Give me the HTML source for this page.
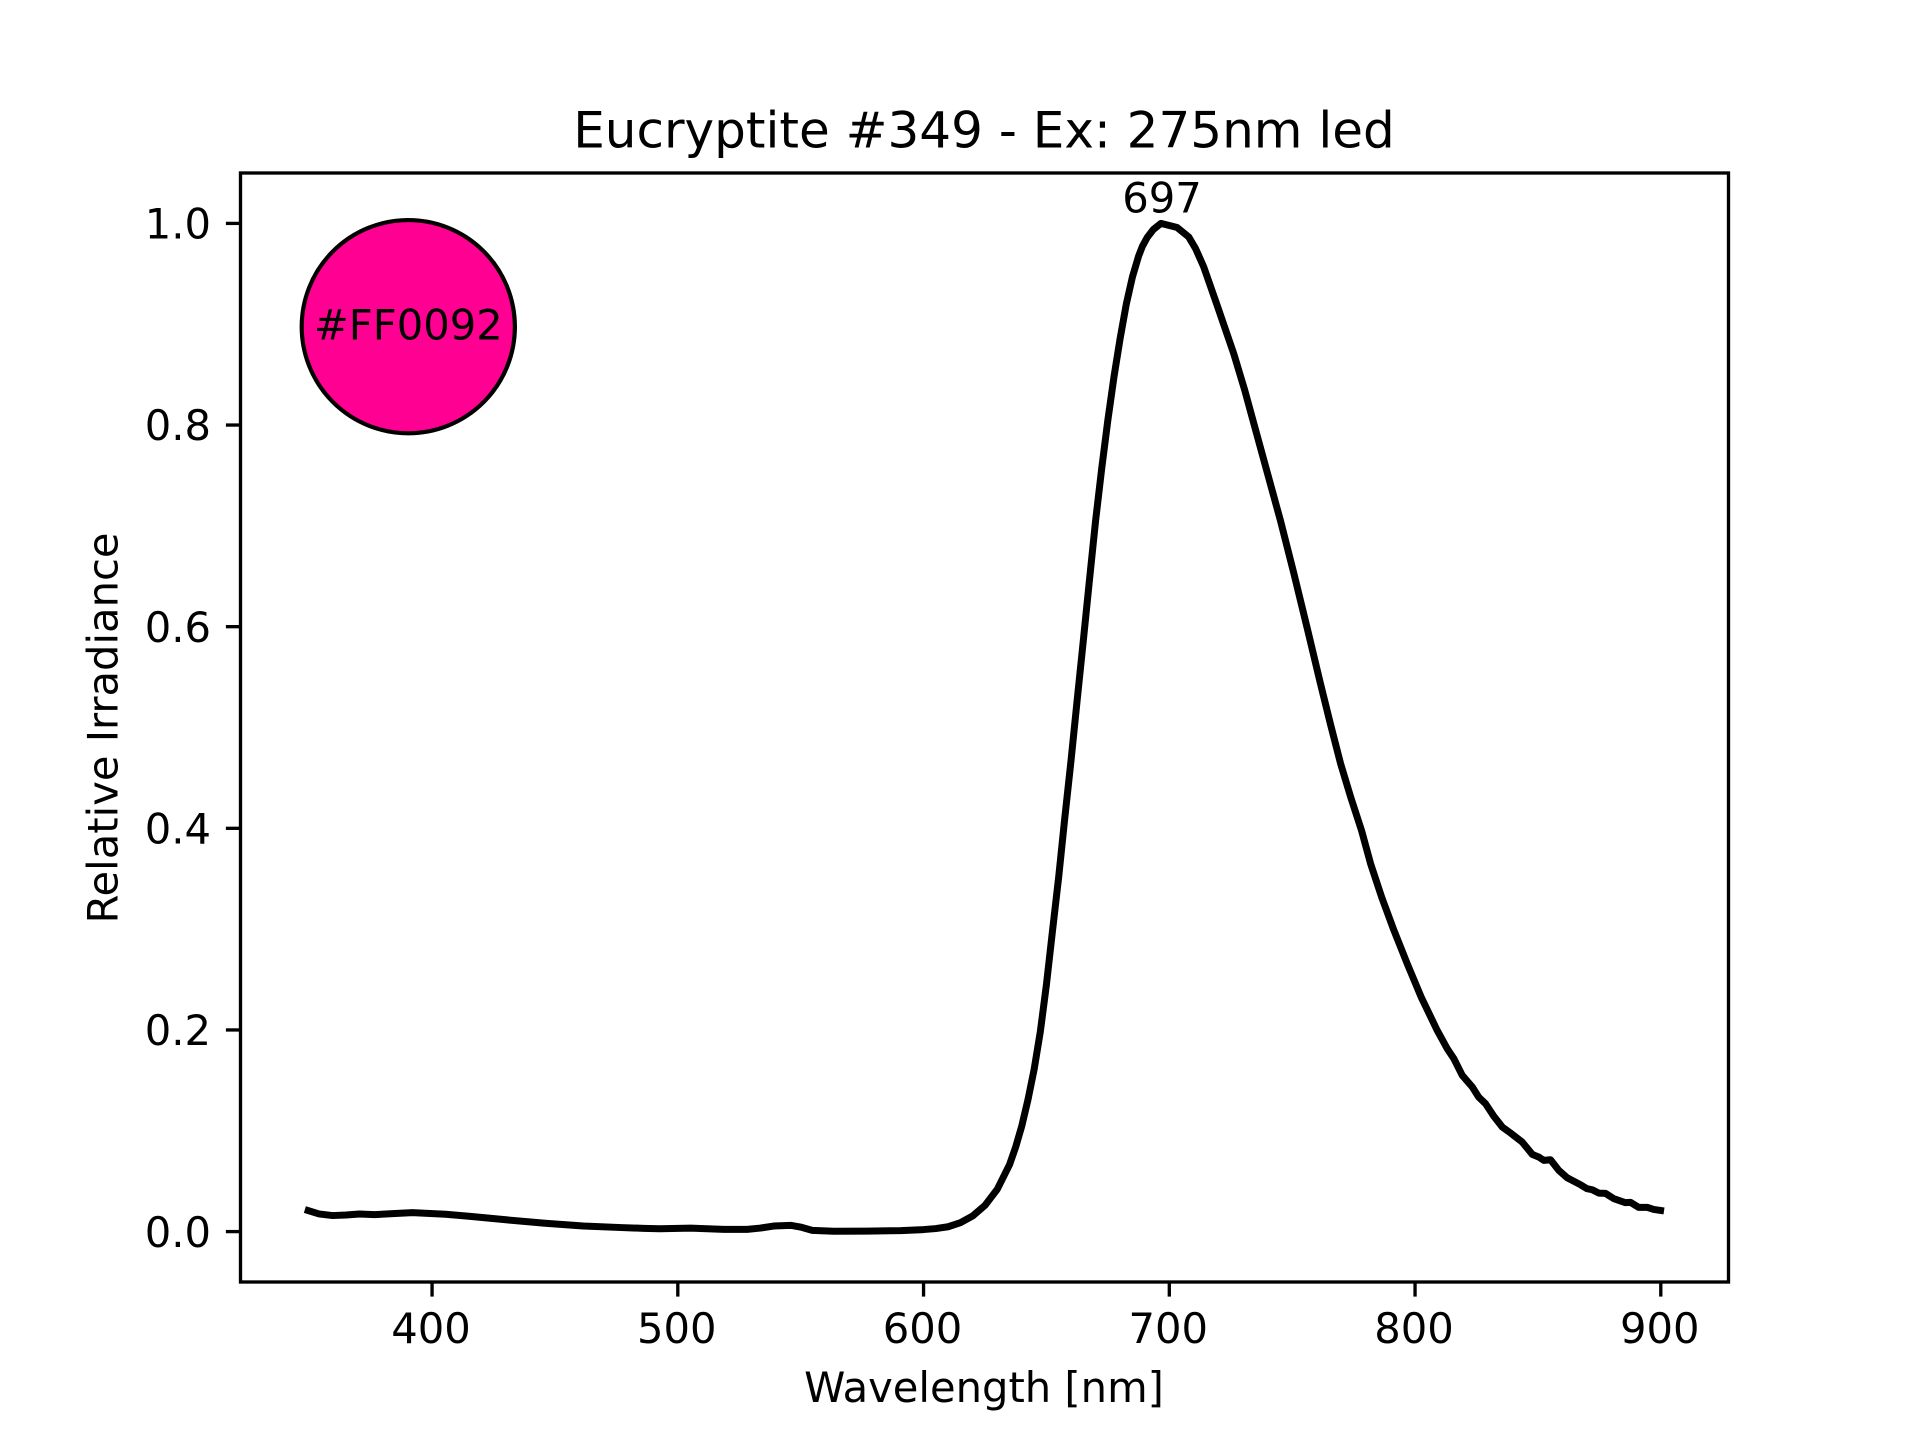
<!DOCTYPE html>
<html lang="en">
<head>
<meta charset="utf-8">
<title>Eucryptite #349 - Ex: 275nm led</title>
<style>
  html, body { margin: 0; padding: 0; background: #ffffff; }
  #chart { display: block; width: 1920px; height: 1440px; background: #ffffff; }
  text { font-family: "DejaVu Sans", "Liberation Sans", sans-serif; fill: #000000; }
</style>
</head>
<body>
<svg id="chart" xmlns="http://www.w3.org/2000/svg" width="1920" height="1440" viewBox="0 0 1920 1440">
  <rect x="0" y="0" width="1920" height="1440" fill="#ffffff"/>
  <text x="984" y="147.5" font-size="50" text-anchor="middle">Eucryptite #349 - Ex: 275nm led</text>
  <text x="984" y="1402" font-size="41.67" text-anchor="middle">Wavelength [nm]</text>
  <text x="117.5" y="728" font-size="41.67" text-anchor="middle" transform="rotate(-90 117.5 728)">Relative Irradiance</text>
  <g id="marks"></g>
  <g id="axes"></g>
</svg>
<script>
const wavelengths = [349.6,354,359.5,365,370.4,376.6,384,392,405.5,415,430.6,446,461.5,477,486.2,492.7,505.2,518.7,528.2,533.6,539,545.9,549.9,554.7,563.5,577,590.7,600,605,610,615,620,625,630,635,637.5,640,642.5,645,647.5,650,652.5,655,657.5,660,662.5,665,667.5,670,672.5,675,677.5,680,682.5,685,687.5,689,691,693.5,696.6,703.2,707.9,710.7,714,719.5,726.2,730.7,734.4,739.6,745.2,750.7,756.1,761.5,765.6,769.7,773.8,778.2,781.9,786.4,791.4,796.8,802.5,809,813.1,815.8,819.2,823.3,825.9,828.7,832,835.5,838.9,843.6,847.7,850.4,852.4,855.1,858.5,861.9,867.3,870,872.1,874.8,877.5,880.9,885.6,887.7,891,894.5,897.1,899.9];
const irradiance = [0.0208,0.0175,0.0159,0.0165,0.0175,0.0168,0.0178,0.0188,0.0172,0.0152,0.0116,0.0083,0.0056,0.004,0.0032,0.0028,0.0034,0.0022,0.0022,0.0035,0.0055,0.0062,0.0045,0.0012,0.0003,0.0005,0.001,0.002,0.003,0.0048,0.0088,0.0155,0.026,0.042,0.0665,0.084,0.105,0.131,0.161,0.198,0.245,0.299,0.352,0.411,0.467,0.527,0.586,0.646,0.705,0.757,0.805,0.848,0.886,0.92,0.947,0.9675,0.977,0.986,0.994,1,0.9959,0.9866,0.975,0.9569,0.9185,0.871,0.8345,0.8015,0.7552,0.7055,0.6527,0.5987,0.5436,0.5031,0.4642,0.4311,0.398,0.365,0.3318,0.2988,0.2658,0.2326,0.1996,0.1814,0.1715,0.155,0.1434,0.1334,0.1268,0.1146,0.1037,0.0977,0.0888,0.0766,0.0739,0.0706,0.0713,0.0607,0.0534,0.0465,0.0425,0.0415,0.0382,0.0379,0.0326,0.0287,0.029,0.024,0.024,0.022,0.021];
const xTickValues = [400,500,600,700,800,900];
const xTickLabels = ["400","500","600","700","800","900"];
const yTickValues = [0,0.2,0.4,0.6,0.8,1];
const yTickLabels = ["0.0","0.2","0.4","0.6","0.8","1.0"];
const xDomain = [322.05,927.55];
const yDomain = [-0.05,1.05];
const colorHex = "#FF0092";

const NS = "http://www.w3.org/2000/svg";
const plot = { left: 240.5, right: 1728.5, top: 173, bottom: 1282 };
function xScale(v) {
  return plot.left + (v - xDomain[0]) / (xDomain[1] - xDomain[0]) * (plot.right - plot.left);
}
function yScale(v) {
  return plot.bottom - (v - yDomain[0]) / (yDomain[1] - yDomain[0]) * (plot.bottom - plot.top);
}
function make(tag, attrs, parent) {
  const el = document.createElementNS(NS, tag);
  Object.keys(attrs).forEach(function (k) { el.setAttribute(k, attrs[k]); });
  parent.appendChild(el);
  return el;
}
const marks = document.getElementById("marks");
const axes = document.getElementById("axes");

const swatch = make("circle", { cx: 408.3, cy: 326.7, r: 106.6, fill: colorHex, stroke: "#000", "stroke-width": 4.17 }, marks);



const swatchLabel = make("text", { x: 408.3, y: 339.5, "font-size": 41.67, "text-anchor": "middle" }, marks);


swatchLabel.textContent = colorHex;

let d = "";
wavelengths.forEach(function (w, i) {
  d += (i ? "L" : "M") + xScale(w).toFixed(2) + " " + yScale(irradiance[i]).toFixed(2);
});
const curve = make("path", { d: d, fill: "none", stroke: "#000", "stroke-width": 7, "stroke-linejoin": "round", "stroke-linecap": "square" }, marks);



let peakIndex = 0;
irradiance.forEach(function (v, i) { if (v > irradiance[peakIndex]) peakIndex = i; });
const peakLabel = make("text", { x: xScale(wavelengths[peakIndex]) + 1, y: yScale(irradiance[peakIndex]) - 11, "font-size": 41.67, "text-anchor": "middle" }, marks);


peakLabel.textContent = String(Math.round(wavelengths[peakIndex] + 0.4));

const frame = make("rect", { x: plot.left, y: plot.top, width: plot.right - plot.left, height: plot.bottom - plot.top, fill: "none", stroke: "#000", "stroke-width": 3.33 }, axes);



xTickValues.forEach(function (v, i) {
  const x = xScale(v);
  const tick = make("line", { x1: x, x2: x, y1: plot.bottom, y2: plot.bottom + 14.6, stroke: "#000", "stroke-width": 3.33 }, axes);
  
  
  const label = make("text", { x: x - 1, y: 1343, "font-size": 41.67, "text-anchor": "middle" }, axes);
  
  
  label.textContent = xTickLabels[i];
});

yTickValues.forEach(function (v, i) {
  const y = yScale(v);
  const tick = make("line", { x1: plot.left, x2: plot.left - 14.6, y1: y, y2: y, stroke: "#000", "stroke-width": 3.33 }, axes);
  
  
  const label = make("text", { x: 211, y: y + 15.2, "font-size": 41.67, "text-anchor": "end" }, axes);
  
  
  label.textContent = yTickLabels[i];
});
</script>
</body>
</html>
